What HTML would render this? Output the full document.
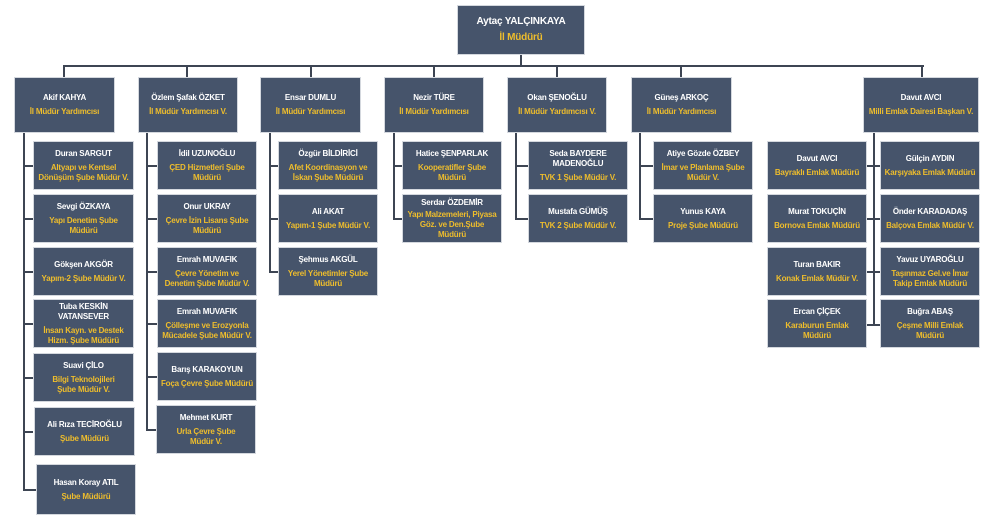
<!DOCTYPE html>
<html><head><meta charset="utf-8"><style>
body{margin:0;width:1000px;height:521px;background:#fff;position:relative;overflow:hidden;font-family:"Liberation Sans","DejaVu Sans",sans-serif;}
.b{position:absolute;background:#46546b;border:1px solid #d4d8de;box-sizing:border-box;display:flex;flex-direction:column;justify-content:center;align-items:center;text-align:center;font-weight:bold;font-size:8px;line-height:10px;color:#fff;letter-spacing:-0.2px;padding:0 6px}
.b i{font-style:normal;color:#eebd2c;display:block;margin-top:4px}
.w{padding:0 1px}
.l{position:absolute;background:#3d4553}
</style></head><body>
<div class="l" style="left:520px;top:54px;width:2px;height:12px"></div>
<div class="l" style="left:63px;top:65px;width:861px;height:2px"></div>
<div class="l" style="left:63px;top:65px;width:2px;height:13px"></div>
<div class="l" style="left:186px;top:65px;width:2px;height:13px"></div>
<div class="l" style="left:310px;top:65px;width:2px;height:13px"></div>
<div class="l" style="left:433px;top:65px;width:2px;height:13px"></div>
<div class="l" style="left:556px;top:65px;width:2px;height:13px"></div>
<div class="l" style="left:680px;top:65px;width:2px;height:13px"></div>
<div class="l" style="left:921px;top:65px;width:2px;height:13px"></div>
<div class="l" style="left:23px;top:133px;width:2px;height:358px"></div>
<div class="l" style="left:146px;top:133px;width:2px;height:297px"></div>
<div class="l" style="left:269px;top:133px;width:2px;height:140px"></div>
<div class="l" style="left:393px;top:133px;width:2px;height:87px"></div>
<div class="l" style="left:515px;top:133px;width:2px;height:87px"></div>
<div class="l" style="left:639px;top:133px;width:2px;height:87px"></div>
<div class="l" style="left:873px;top:133px;width:2px;height:193px"></div>
<div class="l" style="left:23px;top:165px;width:10px;height:2px"></div>
<div class="l" style="left:23px;top:218px;width:10px;height:2px"></div>
<div class="l" style="left:23px;top:271px;width:10px;height:2px"></div>
<div class="l" style="left:23px;top:323px;width:10px;height:2px"></div>
<div class="l" style="left:23px;top:377px;width:10px;height:2px"></div>
<div class="l" style="left:23px;top:431px;width:10px;height:2px"></div>
<div class="l" style="left:23px;top:489px;width:13px;height:2px"></div>
<div class="l" style="left:146px;top:165px;width:11px;height:2px"></div>
<div class="l" style="left:146px;top:218px;width:11px;height:2px"></div>
<div class="l" style="left:146px;top:271px;width:11px;height:2px"></div>
<div class="l" style="left:146px;top:323px;width:11px;height:2px"></div>
<div class="l" style="left:146px;top:376px;width:11px;height:2px"></div>
<div class="l" style="left:146px;top:429px;width:11px;height:2px"></div>
<div class="l" style="left:269px;top:165px;width:9px;height:2px"></div>
<div class="l" style="left:269px;top:218px;width:9px;height:2px"></div>
<div class="l" style="left:269px;top:271px;width:9px;height:2px"></div>
<div class="l" style="left:393px;top:165px;width:9px;height:2px"></div>
<div class="l" style="left:393px;top:218px;width:9px;height:2px"></div>
<div class="l" style="left:515px;top:165px;width:13px;height:2px"></div>
<div class="l" style="left:515px;top:218px;width:13px;height:2px"></div>
<div class="l" style="left:639px;top:165px;width:14px;height:2px"></div>
<div class="l" style="left:639px;top:218px;width:14px;height:2px"></div>
<div class="l" style="left:867px;top:165px;width:14px;height:2px"></div>
<div class="l" style="left:867px;top:218px;width:14px;height:2px"></div>
<div class="l" style="left:867px;top:271px;width:14px;height:2px"></div>
<div class="l" style="left:867px;top:324px;width:14px;height:2px"></div>

<div class="b" style="left:457px;top:5px;width:128px;height:50px;font-size:10px;line-height:12px">Aytaç YALÇINKAYA<i>İl Müdürü</i></div>

<div class="b w" style="left:14px;top:77px;width:101px;height:56px">Akif KAHYA<i>İl Müdür Yardımcısı</i></div>
<div class="b w" style="left:138px;top:77px;width:100px;height:56px">Özlem Şafak ÖZKET<i>İl Müdür Yardımcısı V.</i></div>
<div class="b w" style="left:260px;top:77px;width:101px;height:56px">Ensar DUMLU<i>İl Müdür Yardımcısı</i></div>
<div class="b w" style="left:384px;top:77px;width:100px;height:56px">Nezir TÜRE<i>İl Müdür Yardımcısı</i></div>
<div class="b w" style="left:507px;top:77px;width:100px;height:56px">Okan ŞENOĞLU<i>İl Müdür Yardımcısı V.</i></div>
<div class="b w" style="left:631px;top:77px;width:101px;height:56px">Güneş ARKOÇ<i>İl Müdür Yardımcısı</i></div>
<div class="b w" style="left:863px;top:77px;width:116px;height:56px">Davut AVCI<i>Milli Emlak Dairesi Başkan V.</i></div>

<div class="b w" style="left:33px;top:141px;width:101px;height:49px">Duran SARGUT<i>Altyapı ve Kentsel Dönüşüm Şube Müdür V.</i></div>
<div class="b" style="left:33px;top:194px;width:101px;height:49px">Sevgi ÖZKAYA<i>Yapı Denetim Şube Müdürü</i></div>
<div class="b w" style="left:33px;top:247px;width:101px;height:49px">Gökşen AKGÖR<i>Yapım-2 Şube Müdür V.</i></div>
<div class="b" style="left:33px;top:299px;width:101px;height:49px">Tuba KESKİN VATANSEVER<i>İnsan Kayn. ve Destek Hizm. Şube Müdürü</i></div>
<div class="b" style="left:33px;top:353px;width:101px;height:49px;padding:0 12px">Suavi ÇİLO<i>Bilgi Teknolojileri Şube Müdür V.</i></div>
<div class="b w" style="left:34px;top:407px;width:101px;height:49px">Ali Rıza TECİROĞLU<i>Şube Müdürü</i></div>
<div class="b w" style="left:36px;top:464px;width:100px;height:51px">Hasan Koray ATIL<i>Şube Müdürü</i></div>

<div class="b" style="left:157px;top:141px;width:100px;height:49px">İdil UZUNOĞLU<i>ÇED Hizmetleri Şube Müdürü</i></div>
<div class="b" style="left:157px;top:194px;width:100px;height:49px;padding:0 3px">Onur UKRAY<i>Çevre İzin Lisans Şube Müdürü</i></div>
<div class="b" style="left:157px;top:247px;width:100px;height:49px;padding:0 2px">Emrah MUVAFIK<i>Çevre Yönetim ve Denetim Şube Müdür V.</i></div>
<div class="b w" style="left:157px;top:299px;width:100px;height:49px">Emrah MUVAFIK<i>Çölleşme ve Erozyonla Mücadele Şube Müdür V.</i></div>
<div class="b w" style="left:157px;top:352px;width:100px;height:49px">Barış KARAKOYUN<i>Foça Çevre Şube Müdürü</i></div>
<div class="b" style="left:156px;top:405px;width:100px;height:49px;padding:0 14px">Mehmet KURT<i>Urla Çevre Şube Müdür V.</i></div>

<div class="b" style="left:278px;top:141px;width:100px;height:49px;padding:0 3px">Özgür BİLDİRİCİ<i>Afet Koordinasyon ve İskan Şube Müdürü</i></div>
<div class="b w" style="left:278px;top:194px;width:100px;height:49px">Ali AKAT<i>Yapım-1 Şube Müdür V.</i></div>
<div class="b" style="left:278px;top:247px;width:100px;height:49px">Şehmus AKGÜL<i>Yerel Yönetimler Şube Müdürü</i></div>

<div class="b" style="left:402px;top:141px;width:100px;height:49px">Hatice ŞENPARLAK<i>Kooperatifler Şube Müdürü</i></div>
<div class="b" style="left:402px;top:194px;width:100px;height:49px;padding:0 2px">Serdar ÖZDEMİR<i style="margin-top:2px">Yapı Malzemeleri, Piyasa Göz. ve Den.Şube Müdürü</i></div>

<div class="b w" style="left:528px;top:141px;width:100px;height:49px">Seda BAYDERE<br>MADENOĞLU<i>TVK 1 Şube Müdür V.</i></div>
<div class="b" style="left:528px;top:194px;width:100px;height:49px">Mustafa GÜMÜŞ<i>TVK 2 Şube Müdür V.</i></div>

<div class="b w" style="left:653px;top:141px;width:100px;height:49px">Atiye Gözde ÖZBEY<i>İmar ve Planlama Şube Müdür V.</i></div>
<div class="b" style="left:653px;top:194px;width:100px;height:49px">Yunus KAYA<i>Proje Şube Müdürü</i></div>

<div class="b w" style="left:767px;top:141px;width:100px;height:49px">Davut AVCI<i>Bayraklı Emlak Müdürü</i></div>
<div class="b w" style="left:767px;top:194px;width:100px;height:49px">Murat TOKUÇİN<i>Bornova Emlak Müdürü</i></div>
<div class="b w" style="left:767px;top:247px;width:100px;height:49px">Turan BAKIR<i>Konak Emlak Müdür V.</i></div>
<div class="b" style="left:767px;top:299px;width:100px;height:49px;padding:0 14px">Ercan ÇİÇEK<i>Karaburun Emlak Müdürü</i></div>
<div class="b w" style="left:880px;top:141px;width:100px;height:49px">Gülçin AYDIN<i>Karşıyaka Emlak Müdürü</i></div>
<div class="b w" style="left:880px;top:194px;width:100px;height:49px">Önder KARADADAŞ<i>Balçova Emlak Müdür V.</i></div>
<div class="b" style="left:880px;top:247px;width:100px;height:49px">Yavuz UYAROĞLU<i>Taşınmaz Gel.ve İmar Takip Emlak Müdürü</i></div>
<div class="b" style="left:880px;top:299px;width:100px;height:49px;padding:0 12px">Buğra ABAŞ<i>Çeşme Milli Emlak Müdürü</i></div>
</body></html>
